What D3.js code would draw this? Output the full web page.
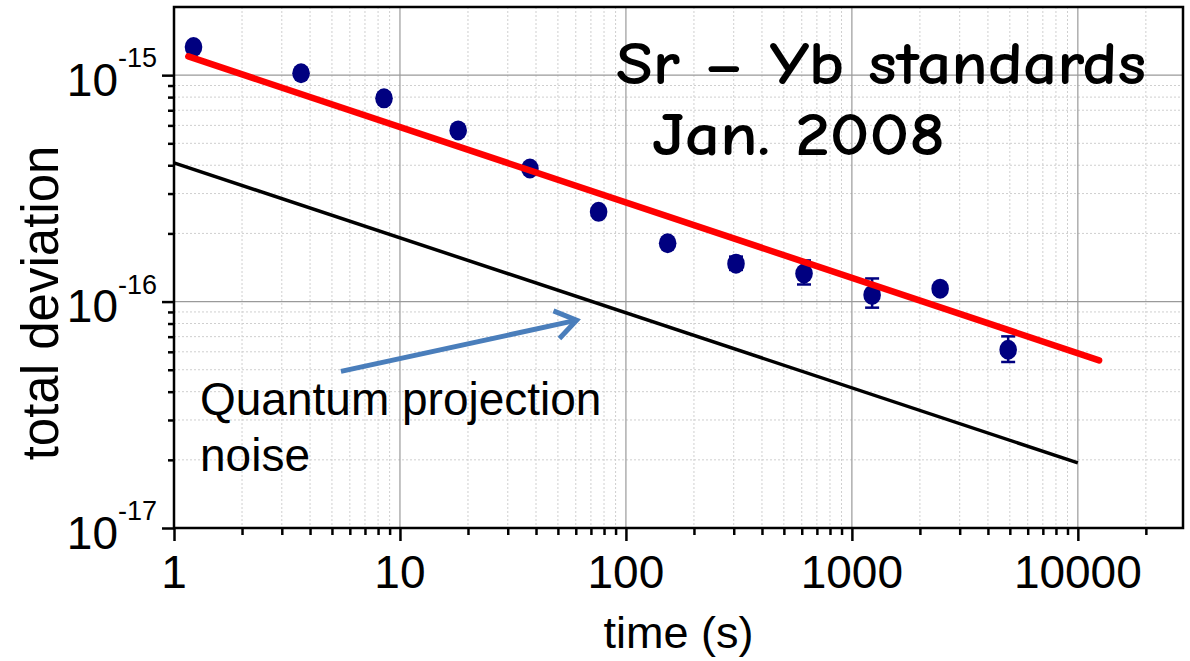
<!DOCTYPE html>
<html>
<head>
<meta charset="utf-8">
<script src="https://cdn.jsdelivr.net/npm/d3@7"></script>
<style>
  html, body { margin: 0; padding: 0; background: #fff; }
  svg { display: block; }
  text { font-family: "Liberation Sans", Arial, sans-serif; fill: #000; }
</style>
</head>
<body>
<svg id="chart" width="1190" height="661"></svg>
<script>
// Measured averaging times (s) and total deviation
const times     = [1.22, 3.65, 8.5, 18.1, 37.6, 75.7, 153, 307, 614, 1229, 2458, 4916];
const deviation = [1.33e-15, 1.02e-15, 7.9e-16, 5.7e-16, 3.87e-16, 2.49e-16, 1.81e-16, 1.47e-16, 1.33e-16, 1.07e-16, 1.14e-16, 6.13e-17];
const errLow    = [1.29e-15, 0.99e-15, 7.65e-16, 5.55e-16, 3.76e-16, 2.42e-16, 1.76e-16, 1.38e-16, 1.19e-16, 9.4e-17, 1.09e-16, 5.41e-17];
const errHigh   = [1.37e-15, 1.05e-15, 8.15e-16, 5.87e-16, 3.98e-16, 2.56e-16, 1.86e-16, 1.58e-16, 1.52e-16, 1.265e-16, 1.19e-16, 7.02e-17];

// Power-law fit through the data
const fitTimes  = [1.157, 12420];
const fitValues = [1.21e-15, 5.5e-17];

// Quantum projection noise limit
const qpnTimes  = [1, 10000];
const qpnValues = [4.1e-16, 1.94e-17];

// Annotation arrow (data coordinates): tail, head
const arrowTimes  = [5.48, 60.5];
const arrowValues = [4.92e-17, 8.27e-17];

// Axis ticks
const xMajor = [1, 10, 100, 1000, 10000];
const xMajorLabels = ["1", "10", "100", "1000", "10000"];
const yMajor = [1e-17, 1e-16, 1e-15];
const yMajorExp = ["-17", "-16", "-15"];

const titleLines = ["Sr – Yb standards", "Jan. 2008"];
const noteLines = ["Quantum projection", "noise"];

const svg = d3.select("#chart");
const L = 174, R = 1183, T = 7, B = 528;

const x = d3.scaleLog().domain([1, 29200]).range([L, R]);
const y = d3.scaleLog().domain([1e-17, 2e-15]).range([B, T]);

// minor tick values: 2..9 in every decade inside the domain
function minorTicks(scale) {
  const [a, b] = scale.domain();
  const out = [];
  for (let e = Math.floor(Math.log10(a)); e <= Math.ceil(Math.log10(b)); e++) {
    for (let m = 2; m <= 9; m++) {
      const v = m * Math.pow(10, e);
      if (v > a * 1.0001 && v < b * 0.9999) out.push(v);
    }
  }
  return out;
}
const xMinor = minorTicks(x);
const yMinor = minorTicks(y);

// Grid
const grid = svg.append("g");
grid.selectAll(".xminor").data(xMinor).join("line")
  .attr("x1", d => x(d)).attr("x2", d => x(d)).attr("y1", T).attr("y2", B)
  .attr("stroke", "#cfcfcf").attr("stroke-width", 1).attr("stroke-dasharray", "2,2");
grid.selectAll(".yminor").data(yMinor).join("line")
  .attr("y1", d => y(d)).attr("y2", d => y(d)).attr("x1", L).attr("x2", R)
  .attr("stroke", "#cfcfcf").attr("stroke-width", 1).attr("stroke-dasharray", "2,2");
grid.selectAll(".xmajor").data(xMajor.slice(1)).join("line")
  .attr("x1", d => x(d)).attr("x2", d => x(d)).attr("y1", T).attr("y2", B)
  .attr("stroke", "#9a9a9a").attr("stroke-width", 1.2);
grid.selectAll(".ymajor").data(yMajor.slice(1)).join("line")
  .attr("y1", d => y(d)).attr("y2", d => y(d)).attr("x1", L).attr("x2", R)
  .attr("stroke", "#9a9a9a").attr("stroke-width", 1.2);

// Quantum projection noise line
const line = d3.line().x(d => x(d[0])).y(d => y(d[1]));
svg.append("path")
  .attr("d", line(d3.zip(qpnTimes, qpnValues)))
  .attr("fill", "none").attr("stroke", "#000").attr("stroke-width", 3.5);

// Error bars and points
const pts = d3.range(times.length).map(i => ({t: times[i], v: deviation[i], lo: errLow[i], hi: errHigh[i]}));
const eb = svg.append("g").attr("stroke", "#000080").attr("stroke-width", 2.5);
eb.selectAll(".v").data(pts).join("line")
  .attr("x1", d => x(d.t)).attr("x2", d => x(d.t))
  .attr("y1", d => y(d.lo)).attr("y2", d => y(d.hi));
eb.selectAll(".cl").data(pts).join("line")
  .attr("x1", d => x(d.t) - 7).attr("x2", d => x(d.t) + 7)
  .attr("y1", d => y(d.lo)).attr("y2", d => y(d.lo));
eb.selectAll(".ch").data(pts).join("line")
  .attr("x1", d => x(d.t) - 7).attr("x2", d => x(d.t) + 7)
  .attr("y1", d => y(d.hi)).attr("y2", d => y(d.hi));
svg.append("g").selectAll("ellipse").data(pts).join("ellipse")
  .attr("cx", d => x(d.t)).attr("cy", d => y(d.v))
  .attr("rx", 8.8).attr("ry", 10)
  .attr("fill", "#000080");

// Fit line
svg.append("path")
  .attr("d", line(d3.zip(fitTimes, fitValues)))
  .attr("fill", "none").attr("stroke", "#ff0000").attr("stroke-width", 6.5)
  .attr("stroke-linecap", "round");

// Frame
svg.append("rect").attr("x", L).attr("y", T).attr("width", R - L).attr("height", B - T)
  .attr("fill", "none").attr("stroke", "#000").attr("stroke-width", 2.5);

// Axes
function styleAxis(g) {
  g.select(".domain").remove();
  g.selectAll(".tick line").attr("stroke", "#000").attr("stroke-width", 2.5);
}
svg.append("g").attr("transform", `translate(0,${B})`)
  .call(d3.axisBottom(x).tickValues(xMinor).tickSize(7).tickFormat(""))
  .call(styleAxis);
svg.append("g").attr("transform", `translate(0,${B})`)
  .call(d3.axisBottom(x).tickValues(xMajor).tickSize(13).tickFormat(""))
  .call(styleAxis);
svg.append("g").attr("transform", `translate(${L},0)`)
  .call(d3.axisLeft(y).tickValues(yMinor).tickSize(6).tickFormat(""))
  .call(styleAxis);
svg.append("g").attr("transform", `translate(${L},0)`)
  .call(d3.axisLeft(y).tickValues(yMajor).tickSize(12).tickFormat(""))
  .call(styleAxis);

// X tick labels
svg.append("g").selectAll("text").data(xMajor).join("text")
  .attr("x", d => x(d)).attr("y", B + 60)
  .attr("text-anchor", "middle").attr("font-size", 46)
  .text((d, i) => xMajorLabels[i]);

// Y tick labels: 10 with superscript exponent
const yl = svg.append("g").selectAll("text").data(yMajor).join("text")
  .attr("x", 157).attr("y", d => y(d) + 20.5)
  .attr("text-anchor", "end");
yl.append("tspan").attr("font-size", 46).text("10");
yl.append("tspan").attr("font-size", 27).attr("dy", -28.5).text((d, i) => yMajorExp[i]);

// Axis titles
svg.append("text")
  .attr("x", (L + R) / 2).attr("y", 648)
  .attr("text-anchor", "middle").attr("font-size", 45)
  .text("time (s)");
svg.append("text")
  .attr("transform", "translate(58,303) rotate(-90)")
  .attr("text-anchor", "middle").attr("font-size", 51)
  .text("total deviation");

// Title
const titleFont = "'Comic Sans MS', 'Comic Neue', 'DejaVu Sans', sans-serif";
svg.append("text").attr("x", 616).attr("y", 84)
  .style("font-family", titleFont).attr("font-size", 60).attr("font-weight", "bold")
  .attr("textLength", 530).attr("lengthAdjust", "spacingAndGlyphs")
  .text(titleLines[0]);
svg.append("text").attr("x", 652).attr("y", 155)
  .style("font-family", titleFont).attr("font-size", 60).attr("font-weight", "bold")
  .attr("textLength", 293).attr("lengthAdjust", "spacingAndGlyphs")
  .text(titleLines[1]);

// Annotation
svg.append("text").attr("x", 200).attr("y", 415).attr("font-size", 46).text(noteLines[0]);
svg.append("text").attr("x", 200).attr("y", 471).attr("font-size", 46).text(noteLines[1]);

const ax0 = x(arrowTimes[0]), ay0 = y(arrowValues[0]);
const ax1 = x(arrowTimes[1]), ay1 = y(arrowValues[1]);
const ang = Math.atan2(ay1 - ay0, ax1 - ax0);
const headLen = 25, headAng = 0.6;
const arrow = svg.append("g").attr("stroke", "#4a7ebb").attr("stroke-width", 5)
  .attr("fill", "none").attr("stroke-linecap", "butt").attr("stroke-linejoin", "miter");
arrow.append("line").attr("x1", ax0).attr("y1", ay0).attr("x2", ax1 - 2 * Math.cos(ang)).attr("y2", ay1 - 2 * Math.sin(ang));
arrow.append("path").attr("d",
  `M${ax1 - headLen * Math.cos(ang - headAng)},${ay1 - headLen * Math.sin(ang - headAng)}` +
  `L${ax1},${ay1}` +
  `L${ax1 - headLen * Math.cos(ang + headAng)},${ay1 - headLen * Math.sin(ang + headAng)}`);
</script>
</body>
</html>
